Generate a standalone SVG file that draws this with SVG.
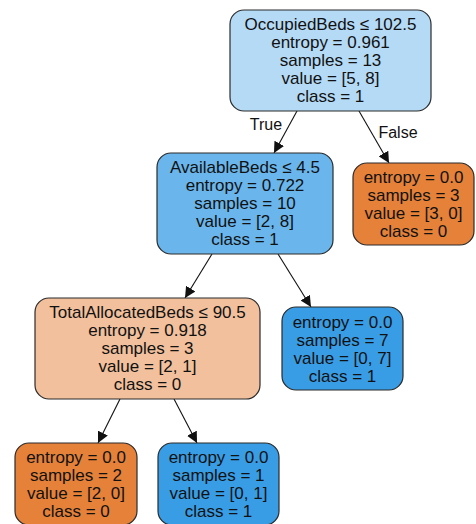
<svg xmlns="http://www.w3.org/2000/svg" width="476" height="524" viewBox="0 0 476 524">
<style>
  .box { stroke: #2b2b2b; stroke-width: 1.2; }
  text { font-family: "Liberation Sans", Arial, sans-serif; font-size: 17px; fill: #111; text-anchor: middle; }
  .edge { stroke: #111; stroke-width: 1.1; fill: none; }
  .lbl { font-size: 16px; }
</style>
<defs>
  <marker id="arr" viewBox="0 0 10 10" refX="10" refY="5" markerWidth="11" markerHeight="11" markerUnits="userSpaceOnUse" orient="auto">
    <path d="M0,0 L10,5 L0,10 z" fill="#111"/>
  </marker>
</defs>
<rect width="476" height="524" fill="#ffffff"/>
<g id="connectors">
  <line class="edge" x1="297" y1="111" x2="274" y2="153" marker-end="url(#arr)"/>
  <line class="edge" x1="359" y1="111" x2="389" y2="163" marker-end="url(#arr)"/>
  <line class="edge" x1="212" y1="254" x2="185" y2="298" marker-end="url(#arr)"/>
  <line class="edge" x1="278" y1="254" x2="311" y2="307" marker-end="url(#arr)"/>
  <line class="edge" x1="120" y1="399" x2="98" y2="443" marker-end="url(#arr)"/>
  <line class="edge" x1="174" y1="399" x2="197" y2="443" marker-end="url(#arr)"/>
  <text class="lbl" x="266" y="130">True</text>
  <text class="lbl" x="398" y="138">False</text>
</g>
<g id="node0">
  <rect class="box" x="230" y="10" width="201" height="101" rx="14" fill="#b5daf5"/>
  <text x="330.5" y="30">OccupiedBeds ≤ 102.5</text>
  <text x="330.5" y="48">entropy = 0.961</text>
  <text x="330.5" y="66">samples = 13</text>
  <text x="330.5" y="84">value = [5, 8]</text>
  <text x="330.5" y="102">class = 1</text>
</g>
<g id="node1">
  <rect class="box" x="157" y="153" width="176" height="101" rx="14" fill="#6ab6ec"/>
  <text x="245" y="173">AvailableBeds ≤ 4.5</text>
  <text x="245" y="191">entropy = 0.722</text>
  <text x="245" y="209">samples = 10</text>
  <text x="245" y="227">value = [2, 8]</text>
  <text x="245" y="245">class = 1</text>
</g>
<g id="node6">
  <rect class="box" x="353" y="163" width="121" height="82" rx="14" fill="#e58139"/>
  <text x="413.5" y="183">entropy = 0.0</text>
  <text x="413.5" y="201">samples = 3</text>
  <text x="413.5" y="219">value = [3, 0]</text>
  <text x="413.5" y="237">class = 0</text>
</g>
<g id="node2">
  <rect class="box" x="35" y="298" width="225" height="101" rx="14" fill="#f2c09c"/>
  <text x="147.5" y="318">TotalAllocatedBeds ≤ 90.5</text>
  <text x="147.5" y="336">entropy = 0.918</text>
  <text x="147.5" y="354">samples = 3</text>
  <text x="147.5" y="372">value = [2, 1]</text>
  <text x="147.5" y="390">class = 0</text>
</g>
<g id="node5">
  <rect class="box" x="282" y="307" width="121" height="83" rx="14" fill="#399de5"/>
  <text x="342.5" y="328">entropy = 0.0</text>
  <text x="342.5" y="346">samples = 7</text>
  <text x="342.5" y="364">value = [0, 7]</text>
  <text x="342.5" y="382">class = 1</text>
</g>
<g id="node3">
  <rect class="box" x="15" y="443" width="122" height="82" rx="14" fill="#e58139"/>
  <text x="76" y="463">entropy = 0.0</text>
  <text x="76" y="481">samples = 2</text>
  <text x="76" y="499">value = [2, 0]</text>
  <text x="76" y="517">class = 0</text>
</g>
<g id="node4">
  <rect class="box" x="158" y="443" width="121" height="82" rx="14" fill="#399de5"/>
  <text x="218.5" y="463">entropy = 0.0</text>
  <text x="218.5" y="481">samples = 1</text>
  <text x="218.5" y="499">value = [0, 1]</text>
  <text x="218.5" y="517">class = 1</text>
</g>
</svg>
